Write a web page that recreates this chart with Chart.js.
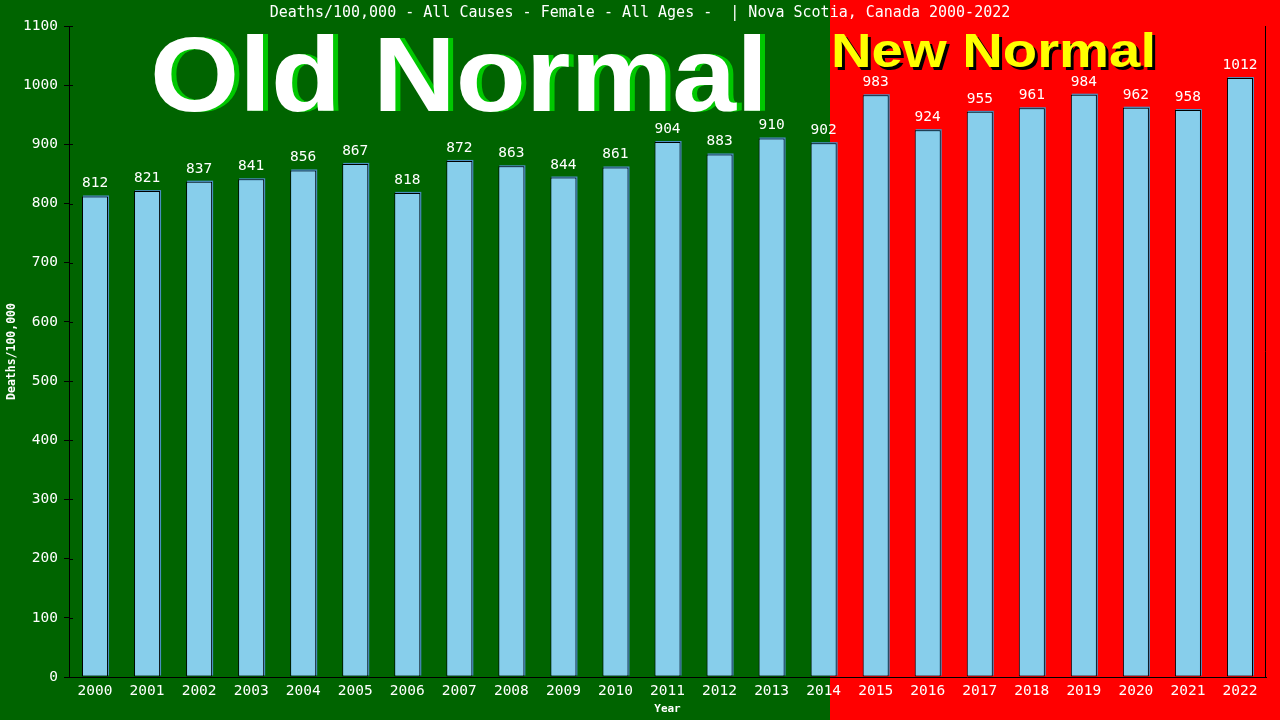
<!DOCTYPE html>
<html>
<head>
<meta charset="utf-8">
<script src="https://cdn.jsdelivr.net/npm/chart.js@4.4.1/dist/chart.umd.min.js"></script>
<style>
  html, body { margin: 0; padding: 0; background: #006400; }
  #wrap { width: 1280px; height: 720px; }
</style>
</head>
<body>
<div id="wrap"><canvas id="deathsChart"></canvas></div>
<script>
const years = ["2000", "2001", "2002", "2003", "2004", "2005", "2006", "2007", "2008", "2009", "2010", "2011",
  "2012", "2013", "2014", "2015", "2016", "2017", "2018", "2019", "2020", "2021", "2022"];
const deathRates = [812, 821, 837, 841, 856, 867, 818, 872, 863, 844, 861, 904,
  883, 910, 902, 983, 924, 955, 961, 984, 962, 958, 1012];
const titleText = "Deaths/100,000 - All Causes - Female - All Ages -  | Nova Scotia, Canada 2000-2022";
const oldLabel = "Old Normal";
const newLabel = "New Normal";

const monoFont = "'DejaVu Sans Mono', monospace";

// draws text stretched to a given width
function fitText(ctx, text, x, y, width) {
  const natural = ctx.measureText(text).width;
  const sx = width / natural;
  ctx.save();
  ctx.translate(x, y);
  ctx.scale(sx, 1);
  ctx.fillText(text, 0, 0);
  ctx.restore();
}

// backgrounds, big labels, bar shadows and value labels
const decorPlugin = {
  id: "decor",
  beforeDraw(chart) {
    const ctx = chart.ctx;
    const splitX = 830;
    ctx.save();
    ctx.fillStyle = "#006400";
    ctx.fillRect(0, 0, splitX, chart.height);
    ctx.fillStyle = "#ff0000";
    ctx.fillRect(splitX, 0, chart.width - splitX, chart.height);

    ctx.fillStyle = "#ffffff";
    ctx.font = "15px " + monoFont;
    ctx.textAlign = "center";
    ctx.textBaseline = "middle";
    ctx.fillText(titleText, 640, 13);
    ctx.restore();
  },
  beforeDatasetsDraw(chart) {
    const ctx = chart.ctx;
    ctx.save();
    ctx.font = "bold 106px 'Liberation Sans'";
    ctx.textAlign = "left";
    ctx.textBaseline = "alphabetic";
    ctx.fillStyle = "#00c800";
    fitText(ctx, oldLabel, 155, 111, 618);
    ctx.fillStyle = "#ffffff";
    fitText(ctx, oldLabel, 150, 111, 618);

    ctx.font = "bold 49px 'Liberation Sans'";
    ctx.fillStyle = "#000000";
    fitText(ctx, newLabel, 834, 70, 325);
    ctx.fillStyle = "#ffff00";
    fitText(ctx, newLabel, 831, 67, 325);

    // bar shadows
    const meta = chart.getDatasetMeta(0);
    ctx.fillStyle = "#4a90c0";
    meta.data.forEach((bar) => {
      const w = bar.width;
      ctx.fillRect(bar.x - w / 2 + 1, bar.y - 1, w, bar.base - bar.y);
    });
    ctx.restore();
  },
  afterDatasetsDraw(chart) {
    const ctx = chart.ctx;
    const meta = chart.getDatasetMeta(0);
    ctx.save();
    ctx.fillStyle = "#ffffff";
    ctx.font = "14.5px " + monoFont;
    ctx.textAlign = "center";
    ctx.textBaseline = "alphabetic";
    meta.data.forEach((bar, i) => {
      ctx.fillText(String(deathRates[i]), bar.x, bar.y - 9);
    });
    ctx.restore();
  },
  afterDraw(chart) {
    const ctx = chart.ctx;
    const area = chart.chartArea;
    const yScale = chart.scales.y;
    ctx.save();
    ctx.strokeStyle = "#000000";
    ctx.lineWidth = 1;
    ctx.beginPath();
    ctx.moveTo(area.right - 0.5, area.top);
    ctx.lineTo(area.right - 0.5, area.bottom);
    yScale.ticks.forEach((t) => {
      const py = Math.round(yScale.getPixelForValue(t.value)) + 0.5;
      ctx.moveTo(area.left, py);
      ctx.lineTo(area.left + 4, py);
    });
    ctx.stroke();
    ctx.restore();
  }
};

const chartCtx = document.getElementById("deathsChart").getContext("2d");

new Chart(chartCtx, {
  type: "bar",
  data: {
    labels: years,
    datasets: [
      {
        label: "Deaths/100,000",
        data: deathRates,
        backgroundColor: "#87ceeb",
        borderColor: "#000000",
        borderWidth: 1,
        borderSkipped: false,
        barPercentage: 0.5,
        categoryPercentage: 1
      }
    ]
  },
  options: {
    responsive: true,
    maintainAspectRatio: false,
    animation: false,
    devicePixelRatio: 1,
    layout: {
      padding: { top: 26, right: 14, left: 0, bottom: 0 }
    },
    plugins: {
      legend: { display: false },
      tooltip: { enabled: false },
      title: { display: false }
    },
    scales: {
      x: {
        afterFit(scale) { scale.height = 43; },
        grid: { display: false, drawTicks: false },
        border: { display: true, color: "#000000", width: 1 },
        ticks: {
          color: "#ffffff",
          font: { family: monoFont, size: 14.5 },
          padding: 6,
          maxRotation: 0,
          autoSkip: false
        },
        title: {
          display: true,
          text: "Year",
          color: "#ffffff",
          font: { family: monoFont, size: 11, weight: "bold" },
          padding: { top: 0, bottom: 4 }
        }
      },
      y: {
        min: 0,
        max: 1100,
        afterFit(scale) { scale.width = 69; },
        grid: {
          drawOnChartArea: false,
          drawTicks: true,
          tickLength: 5,
          color: "#000000"
        },
        border: { display: true, color: "#000000", width: 1 },
        ticks: {
          stepSize: 100,
          color: "#ffffff",
          font: { family: monoFont, size: 14.5 },
          padding: 6,
          callback: (value) => String(value)
        },
        title: {
          display: true,
          text: "Deaths/100,000",
          color: "#ffffff",
          font: { family: monoFont, size: 11.5, weight: "bold" },
          padding: { top: 5, bottom: 0 }
        }
      }
    }
  },
  plugins: [decorPlugin]
});
</script>
</body>
</html>
